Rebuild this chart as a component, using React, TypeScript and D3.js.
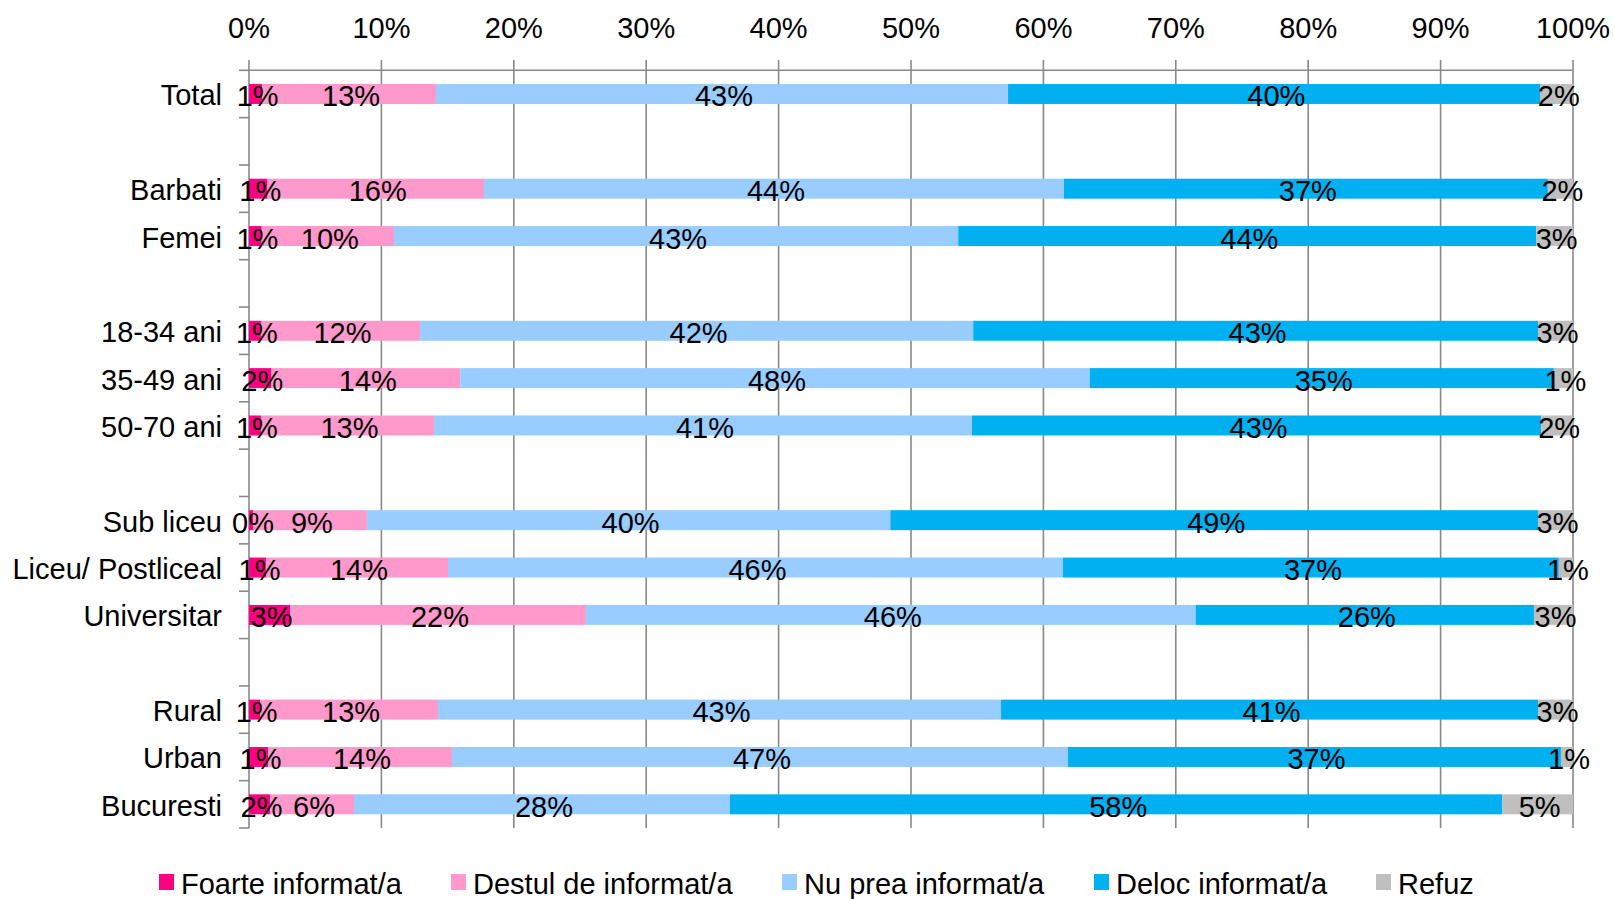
import React from 'react';
import * as d3 from 'd3';

// ---- data ----
const categories = [
  'Total',
  'Barbati', 'Femei',
  '18-34 ani', '35-49 ani', '50-70 ani',
  'Sub liceu', 'Liceu/ Postliceal', 'Universitar',
  'Rural', 'Urban', 'Bucuresti',
];
// number of categories in each group; groups are separated by an empty row
const groupSizes = [1, 2, 3, 3, 3];

const seriesNames = ['Foarte informat/a', 'Destul de informat/a', 'Nu prea informat/a', 'Deloc informat/a', 'Refuz'];
const foarte = [1.0, 1.4, 0.96, 0.9, 1.7, 0.9, 0.3, 1.28, 3.1, 0.85, 1.44, 1.59];
const destul = [13.12, 16.35, 9.99, 12.02, 14.25, 13.07, 8.6, 13.75, 22.35, 13.42, 13.89, 6.34];
const nuPrea = [43.21, 43.8, 42.62, 41.78, 47.55, 40.64, 39.54, 46.45, 46.05, 42.53, 46.53, 28.4];
const deloc = [40.22, 36.55, 43.66, 42.66, 35.05, 42.99, 48.92, 37.45, 25.55, 40.56, 37.23, 58.33];
const refuz = [2.45, 1.9, 2.77, 2.64, 1.45, 2.4, 2.64, 1.07, 2.95, 2.64, 0.91, 5.34];
const seriesColors = ['#FF0080', '#FF99CC', '#99CCFF', '#00B0F0', '#BFBFBF'];
const tickValues = [0, 0.1, 0.2, 0.3, 0.4, 0.5, 0.6, 0.7, 0.8, 0.9, 1.0];

// ---- layout ----
const W = 1614;
const H = 899;
const X0 = 249;
const X1 = 1573;
const Y0 = 70.3;
const Y1 = 828;
const FONT = "'Liberation Sans', Arial, sans-serif";
const FS = 29;
const legendX = [159, 451, 782, 1094, 1376];
const legendY = 874;

export default function App() {
  // row ids, inserting gap rows between groups
  const rowIds: string[] = [];
  let ci = 0;
  groupSizes.forEach((n, gi) => {
    if (gi > 0) rowIds.push(`gap${gi}`);
    for (let k = 0; k < n; k++) rowIds.push(categories[ci++]);
  });

  const keys = ['foarte', 'destul', 'nuPrea', 'deloc', 'refuz'];
  const arrays = [foarte, destul, nuPrea, deloc, refuz];
  const table = categories.map((c, i) => {
    const o: any = { cat: c };
    keys.forEach((k, j) => (o[k] = arrays[j][i]));
    return o;
  });

  const stack = d3.stack<any>().keys(keys).offset(d3.stackOffsetExpand);
  const series = stack(table);

  const x = d3.scaleLinear().domain([0, 1]).range([X0, X1]);
  const y = d3
    .scaleBand<string>()
    .domain(rowIds)
    .range([Y0, Y1])
    .paddingInner(0.578)
    .paddingOuter(0.289);
  const bh = y.bandwidth();
  const fmt = d3.format('.0%');

  const boundaries = d3.range(rowIds.length + 1).map((i) => Y0 + i * (Y1 - Y0) / rowIds.length);

  return (
    <svg
      width={W}
      height={H}
      style={{ position: 'absolute', left: 0, top: 0, background: '#fff' }}
      fontFamily={FONT}
    >
      {/* gridlines */}
      {tickValues.map((t) => (
        <line key={`g${t}`} x1={x(t)} x2={x(t)} y1={60} y2={Y1} stroke="#898989" strokeWidth={1.6} />
      ))}
      {/* top axis line */}
      <line x1={X0} x2={X1} y1={Y0} y2={Y0} stroke="#898989" strokeWidth={1.6} />
      {/* left axis ticks */}
      {boundaries.map((b, i) => (
        <line key={`t${i}`} x1={X0 - 10} x2={X0} y1={b} y2={b} stroke="#898989" strokeWidth={1.6} />
      ))}
      {/* tick labels */}
      {tickValues.map((t) => (
        <text key={`l${t}`} x={x(t)} y={38} textAnchor="middle" fontSize={FS} fill="#000">
          {fmt(t)}
        </text>
      ))}
      {/* bars */}
      {series.map((s, si) => (
        <g key={s.key} fill={seriesColors[si]}>
          {s.map((d, i) => (
            <rect
              key={i}
              x={x(d[0])}
              width={Math.max(0, x(d[1]) - x(d[0]))}
              y={y(categories[i])!}
              height={bh}
            />
          ))}
        </g>
      ))}
      {/* value labels */}
      {series.map((s, si) => (
        <g key={`v${s.key}`}>
          {s.map((d, i) => (
            <text
              key={i}
              x={(x(d[0]) + x(d[1])) / 2 + 2}
              y={y(categories[i])! + bh / 2 + 12.5}
              textAnchor="middle"
              fontSize={FS}
              fill="#000"
            >
              {Math.round(arrays[si][i]) + '%'}
            </text>
          ))}
        </g>
      ))}
      {/* category labels */}
      {categories.map((c) => (
        <text
          key={`c${c}`}
          x={222}
          y={y(c)! + bh / 2 + 11.5}
          textAnchor="end"
          fontSize={FS}
          fill="#000"
        >
          {c}
        </text>
      ))}
      {/* legend */}
      {seriesNames.map((n, i) => (
        <g key={`lg${i}`}>
          <rect x={legendX[i]} y={legendY} width={15} height={16} fill={seriesColors[i]} />
          <text x={legendX[i] + 22} y={legendY + 19.5} fontSize={FS} fill="#000">
            {n}
          </text>
        </g>
      ))}
    </svg>
  );
}
